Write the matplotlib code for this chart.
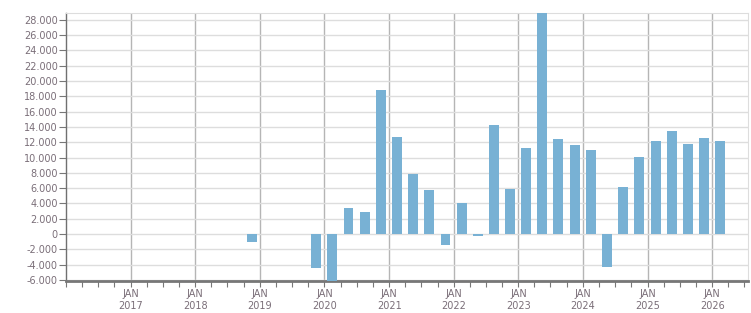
import matplotlib
matplotlib.use("Agg")
import matplotlib.pyplot as plt
import matplotlib.dates as mdates
from matplotlib.ticker import FixedLocator, FuncFormatter
import numpy as np
import datetime as dt

# quarterly values, Q4 2018 .. Q1 2026 (nan = no bar)
quarters = ["2018Q4", "2019Q1", "2019Q2", "2019Q3", "2019Q4",
            "2020Q1", "2020Q2", "2020Q3", "2020Q4",
            "2021Q1", "2021Q2", "2021Q3", "2021Q4",
            "2022Q1", "2022Q2", "2022Q3", "2022Q4",
            "2023Q1", "2023Q2", "2023Q3", "2023Q4",
            "2024Q1", "2024Q2", "2024Q3", "2024Q4",
            "2025Q1", "2025Q2", "2025Q3", "2025Q4",
            "2026Q1"]
values = [-1100, np.nan, np.nan, np.nan, -4400,
          -6500, 3400, 2900, 18800,
          12700, 7900, 5800, -1500,
          4100, -300, 14200, 5900,
          11300, 29500, 12400, 11600,
          11000, -4300, 6200, 10100,
          12100, 13500, 11800, 12500,
          12200]
year_labels = ["2017", "2018", "2019", "2020", "2021", "2022", "2023", "2024", "2025", "2026"]
y_ticks = list(range(-6000, 28001, 2000))

def quarter_mid(q):
    year, n = int(q[:4]), int(q[-1])
    start = dt.date(year, 3 * (n - 1) + 1, 1)
    return start + dt.timedelta(days=45)

x = mdates.date2num([quarter_mid(q) for q in quarters])

fig = plt.figure(figsize=(7.51, 3.13), dpi=100)
ax = fig.add_axes([66 / 751, 32 / 313, 682 / 751, 268 / 313])

label_color = "#7a6e78"
ax.bar(x, values, width=56, color="#78b1d4", zorder=3)

ax.set_xlim(mdates.date2num(dt.date(2016, 1, 1)), mdates.date2num(dt.date(2026, 7, 22)))
ax.set_ylim(-6150, 28900)

# y axis
ax.set_yticks(y_ticks)
ax.yaxis.set_major_formatter(FuncFormatter(lambda v, p: f"{int(v):,}".replace(",", ".")))
ax.grid(axis="y", color="#dddddd", linewidth=1.0, zorder=0)

# x axis: JAN of each year, quarterly minor ticks
jan = [mdates.date2num(dt.date(int(y), 1, 1)) for y in year_labels]
ax.xaxis.set_major_locator(FixedLocator(jan))
ax.set_xticklabels(["JAN\n" + y for y in year_labels])
quarter_ticks = [mdates.date2num(dt.date(y, m, 1)) for y in range(2016, 2027) for m in (1, 4, 7, 10)]
ax.xaxis.set_minor_locator(FixedLocator(quarter_ticks))
for xv in jan:
    ax.axvline(xv, color="#b5b5b5", linewidth=1.0, zorder=1)

ax.tick_params(axis="both", which="both", colors="#777777", labelcolor=label_color, labelsize=7)
ax.tick_params(axis="y", length=5, width=0.8, pad=1)
ax.tick_params(axis="x", which="major", length=4, width=0.8, pad=2)
ax.tick_params(axis="x", which="minor", length=4, width=0.8)
for lab in ax.get_xticklabels():
    lab.set_linespacing(1.2)

ax.spines["left"].set_color("#707070")
ax.spines["left"].set_linewidth(1.0)
ax.spines["bottom"].set_color("#777777")
ax.spines["bottom"].set_linewidth(2.0)
ax.spines["top"].set_color("#dddddd")
ax.spines["right"].set_color("#dddddd")

fig.savefig("out.png", dpi=100)
